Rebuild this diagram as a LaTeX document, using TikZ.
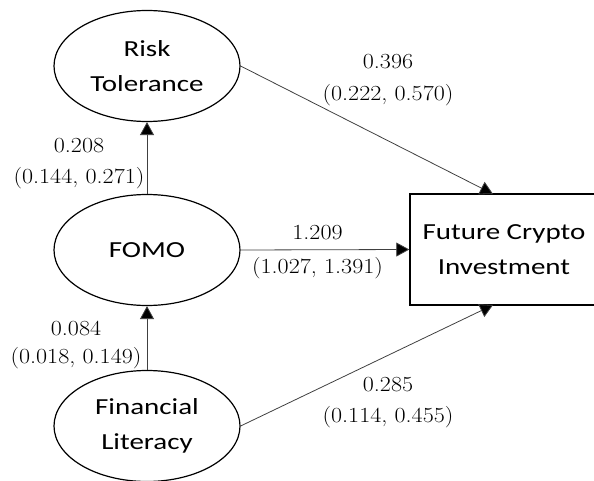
\documentclass[tikz,border=0pt]{standalone}
\usepackage{fontspec}
\usepackage{graphicx}
\newfontfamily\labelfont[FakeStretch=1.26]{Carlito}
\newcommand\widenum[1]{\scalebox{1.12}[1]{#1}}
\usetikzlibrary{arrows.meta,shapes.geometric}
\begin{document}
\begin{tikzpicture}[x=1pt,y=-1pt,
  construct/.style={ellipse,draw,line width=1.2pt,minimum width=186pt,minimum height=111pt,inner sep=0pt,align=center,font=\labelfont\fontsize{23}{35}\selectfont},
  outcome/.style={rectangle,draw,line width=1.4pt,minimum width=188pt,minimum height=111pt,inner sep=0pt,align=center,font=\labelfont\fontsize{23}{35}\selectfont},
  path/.style={draw=black!75,line width=0.8pt,-{Triangle[length=13pt,width=14pt,fill=black]}},
  coef/.style={font=\fontsize{21.5}{26}\selectfont,inner sep=0pt,text=black}
]
\useasboundingbox (0,0) rectangle (594,481);
\clip (0,0) rectangle (594,481);
\node[construct] (risk) at (147,66) {Risk\\Tolerance};
\node[construct] (fomo) at (147,250) {FOMO};
\node[construct] (fin) at (147,426) {Financial\\Literacy};
\node[outcome] (fci) at (504,249.5) {Future Crypto\\Investment};
\coordinate (fcitop) at (493,194);
\coordinate (fcibot) at (493,305);
\draw[path] (fomo.north) -- (risk.south);
\draw[path] (fin.north) -- (fomo.south);
\draw[path] (fomo.east) -- (fci.west);
\draw[path] (risk.east) -- (fcitop);
\draw[path] (fin.east) -- (fcibot);
\node[coef] (c1a) at (388,62) {\widenum{0.396}};
\node[coef] (c1b) at (388,95) {\widenum{(0.222, 0.570)}};
\node[coef] (c2a) at (317.5,233) {\widenum{1.209}};
\node[coef] (c2b) at (317.5,268) {\widenum{(1.027, 1.391)}};
\node[coef] (c3a) at (388,385) {\widenum{0.285}};
\node[coef] (c3b) at (388,417) {\widenum{(0.114, 0.455)}};
\node[coef] (c4a) at (79,146) {\widenum{0.208}};
\node[coef] (c4b) at (79,178) {\widenum{(0.144, 0.271)}};
\node[coef] (c5a) at (76,328) {\widenum{0.084}};
\node[coef] (c5b) at (76,358) {\widenum{(0.018, 0.149)}};
\end{tikzpicture}
\end{document}
